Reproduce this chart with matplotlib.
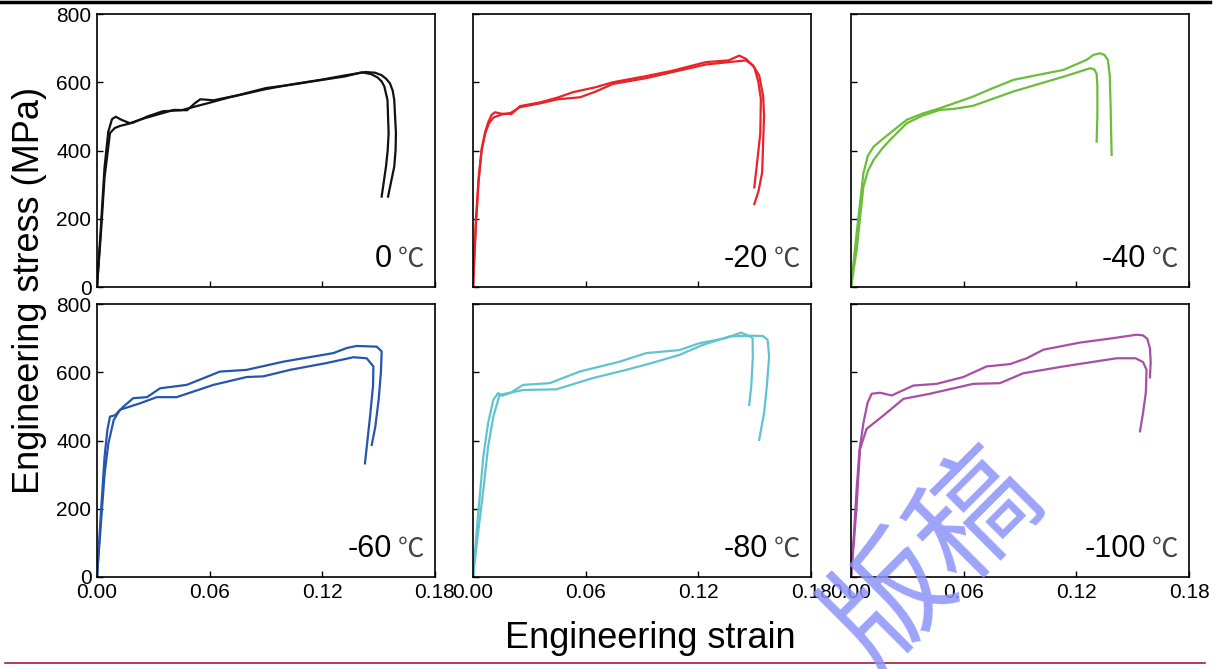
import matplotlib
matplotlib.use('Agg')
import matplotlib.pyplot as plt
from matplotlib.lines import Line2D


plt.rcParams['font.family'] = ['Liberation Sans', 'DejaVu Sans']

temperatures = ['0', '-20', '-40', '-60', '-80', '-100']
colors = ['#111111', '#e8232a', '#6bbd3a', '#2456ad', '#62c3d0', '#a84ea6']

x_ticks = [0.00, 0.06, 0.12, 0.18]
x_ticklabels = ['0.00', '0.06', '0.12', '0.18']
y_ticks = [0, 200, 400, 600, 800]

# two specimens per temperature, strain / stress (MPa)
strain_0a = [0, 0.002, 0.004, 0.006, 0.008, 0.010, 0.013, 0.0175, 0.025, 0.032, 0.041, 0.048,
             0.052, 0.055, 0.058, 0.062, 0.075, 0.09, 0.105, 0.12, 0.132, 0.141, 0.146,
             0.1494, 0.1515, 0.153, 0.1547, 0.1553, 0.1548, 0.1539, 0.1516]
stress_0a = [0, 170, 350, 455, 492, 499, 490, 480, 494, 505, 519, 518,
             538, 550, 549, 547, 562, 583, 594, 607, 617, 629, 624,
             614, 603, 588, 548, 450, 400, 353, 265]
strain_0b = [0, 0.002, 0.004, 0.0069, 0.0095, 0.0123, 0.0194, 0.027, 0.035, 0.045, 0.053, 0.060,
             0.070, 0.09, 0.105, 0.12, 0.132, 0.143, 0.148, 0.1515, 0.154, 0.156, 0.1575,
             0.1583, 0.1592, 0.1590, 0.1583, 0.155]
stress_0b = [0, 150, 320, 451, 466, 472, 482, 500, 515, 518, 530, 540,
             555, 580, 595, 608, 620, 630, 628, 621, 610, 597, 575,
             548, 450, 400, 353, 265]

strain_20a = [0, 0.0016, 0.003, 0.0046, 0.0065, 0.0081, 0.0100, 0.0117, 0.015, 0.0205, 0.025,
              0.0356, 0.045, 0.0533, 0.065, 0.0745, 0.0922, 0.1064, 0.124, 0.136, 0.1418,
              0.1455, 0.1498, 0.152, 0.1533, 0.1530, 0.1510, 0.1498]
stress_20a = [0, 199, 320, 405, 455, 483, 505, 512, 508, 507, 530,
              541, 555, 571, 585, 600, 618, 634, 659, 664, 678,
              668, 644, 600, 551, 450, 350, 292]
strain_20b = [0, 0.0016, 0.003, 0.0046, 0.0065, 0.0085, 0.011, 0.015, 0.020, 0.025, 0.0356,
              0.045, 0.057, 0.065, 0.0745, 0.0922, 0.1064, 0.124, 0.138, 0.1453, 0.149,
              0.1524, 0.1545, 0.155, 0.1545, 0.154, 0.1520, 0.1498]
stress_20b = [0, 190, 310, 400, 450, 480, 497, 505, 510, 527, 538,
              550, 556, 572, 595, 612, 630, 652, 660, 664, 650,
              620, 560, 502, 420, 336, 280, 243]

strain_40a = [0, 0.003, 0.0066, 0.009, 0.012, 0.0165, 0.0208, 0.0297, 0.038, 0.0474, 0.0599,
              0.065, 0.073, 0.0865, 0.10, 0.113, 0.1256, 0.129, 0.1326, 0.135, 0.1368, 0.1378,
              0.1383, 0.1388]
stress_40a = [0, 157, 333, 385, 411, 432, 451, 490, 508, 524, 548,
              558, 577, 607, 622, 636, 666, 680, 685, 680, 665, 620,
              520, 387]
strain_40b = [0, 0.003, 0.0066, 0.009, 0.012, 0.0165, 0.0208, 0.0297, 0.038, 0.0474, 0.055,
              0.065, 0.0865, 0.10, 0.113, 0.1245, 0.1273, 0.1295, 0.1308, 0.1312, 0.1312, 0.1308]
stress_40b = [0, 108, 294, 340, 372, 405, 431, 480, 502, 519, 522,
              531, 573, 595, 616, 636, 641, 638, 625, 590, 500, 426]

strain_60a = [0, 0.002, 0.004, 0.0055, 0.0069, 0.0096, 0.014, 0.0193, 0.0266, 0.0336, 0.0478,
              0.0655, 0.0797, 0.0992, 0.1258, 0.133, 0.1383, 0.149, 0.1516, 0.1512, 0.1500,
              0.1482, 0.1463]
stress_60a = [0, 180, 350, 430, 470, 474, 499, 524, 527, 553, 563,
              602, 607, 631, 656, 671, 677, 675, 661, 600, 520,
              440, 387]
strain_60b = [0, 0.002, 0.004, 0.006, 0.0089, 0.0122, 0.0229, 0.0318, 0.0424, 0.062, 0.0797,
              0.0886, 0.1028, 0.1223, 0.1365, 0.1436, 0.1472, 0.147, 0.1454, 0.1427]
stress_60b = [0, 150, 300, 390, 460, 490, 509, 527, 527, 563, 586,
              588, 607, 627, 644, 641, 617, 560, 470, 333]

strain_80a = [0, 0.0025, 0.0055, 0.008, 0.0108, 0.0134, 0.0154, 0.02, 0.0267, 0.0409, 0.0568,
              0.0781, 0.0922, 0.11, 0.1205, 0.1347, 0.1427, 0.1465, 0.1489, 0.149, 0.1482, 0.1471]
stress_80a = [0, 170, 353, 450, 519, 539, 531, 540, 563, 568, 602,
              631, 656, 665, 685, 700, 716, 708, 700, 640, 560, 504]
strain_80b = [0, 0.0025, 0.0055, 0.008, 0.0108, 0.0142, 0.018, 0.0267, 0.0444, 0.0639, 0.0816,
              0.0958, 0.11, 0.1223, 0.1365, 0.1489, 0.1545, 0.1569, 0.1577, 0.1565, 0.155, 0.1524]
stress_80b = [0, 120, 255, 380, 470, 534, 538, 548, 550, 583, 607,
              628, 651, 680, 705, 707, 706, 695, 646, 560, 480, 402]

strain_100a = [0, 0.0015, 0.003, 0.0045, 0.0066, 0.0088, 0.011, 0.0155, 0.0217, 0.0332, 0.0456,
               0.0598, 0.0722, 0.0847, 0.0936, 0.1024, 0.122, 0.1397, 0.1521, 0.1555, 0.1578,
               0.1592, 0.1596, 0.1592]
stress_100a = [0, 120, 258, 370, 451, 510, 537, 540, 532, 561, 566,
               586, 617, 624, 641, 666, 687, 700, 710, 708, 698,
               670, 630, 585]
strain_100b = [0, 0.0015, 0.003, 0.0048, 0.0083, 0.0172, 0.0279, 0.042, 0.0651, 0.0793, 0.0917,
               0.1131, 0.1308, 0.1415, 0.1515, 0.1555, 0.1574, 0.157, 0.1555, 0.1539]
stress_100b = [0, 100, 209, 375, 434, 473, 522, 537, 566, 568, 597,
               617, 632, 641, 641, 630, 607, 540, 480, 427]

curves = [
    [(strain_0a, stress_0a), (strain_0b, stress_0b)],
    [(strain_20a, stress_20a), (strain_20b, stress_20b)],
    [(strain_40a, stress_40a), (strain_40b, stress_40b)],
    [(strain_60a, stress_60a), (strain_60b, stress_60b)],
    [(strain_80a, stress_80a), (strain_80b, stress_80b)],
    [(strain_100a, stress_100a), (strain_100b, stress_100b)],
]


def main():

    W, H = 1218, 669
    fig = plt.figure(figsize=(W / 100, H / 100), dpi=100)

    # panel boxes in pixels (left, top)
    lefts = [97, 473, 851]
    tops = [14, 304]
    aw, ah = 338, 273

    for i in range(6):
        r, c = divmod(i, 3)
        ax = fig.add_axes([lefts[c] / W, 1 - (tops[r] + ah) / H, aw / W, ah / H])

        for xs, ys in curves[i]:
            ax.plot(xs, ys, color=colors[i], lw=1.6, solid_joinstyle='round')

        ax.set_xlim(0, 0.18)
        ax.set_ylim(0, 800)
        ax.set_xticks(x_ticks)
        ax.set_yticks(y_ticks)
        ax.tick_params(direction='in', length=4, width=1.0, labelsize=15, pad=4)

        if r == 1:
            ax.set_xticklabels(x_ticklabels)
        else:
            ax.set_xticklabels([])
        if c == 0:
            ax.set_yticklabels([str(v) for v in y_ticks])
        else:
            ax.set_yticklabels([])

        for s in ax.spines.values():
            s.set_linewidth(1.2)

        ax.text(0.872, 0.075, temperatures[i], transform=ax.transAxes,
                ha='right', va='baseline', fontsize=22)
        ax.text(0.89, 0.074, '℃', transform=ax.transAxes, ha='left',
                va='baseline', fontsize=19, color='#444444',
                family=['Noto Sans CJK SC', 'DejaVu Sans'], fontweight='light')

    fig.text(30 / W, 1 - 290 / H, 'Engineering stress (MPa)', rotation=90,
             ha='center', va='center', fontsize=26)
    fig.text(650 / W, 1 - 638 / H, 'Engineering strain',
             ha='center', va='center', fontsize=26)

    # page rules above and below
    fig.add_artist(Line2D([0, 1210 / W], [1 - 2 / H, 1 - 2 / H], color='black', lw=2.5))
    fig.add_artist(Line2D([5 / W, 1205 / W], [1 - 663 / H, 1 - 663 / H],
                          color='#a0203c', lw=1.2))

    # watermark
    fig.text(935 / W, 1 - 560 / H, '版稿', rotation=45, ha='center', va='center',
             fontsize=88, color='#8c93f7', alpha=0.85,
             family=['Noto Sans CJK SC', 'DejaVu Sans'], fontweight='light', zorder=10)

    fig.savefig('out.png', dpi=100)


if __name__ == "__main__":
    main()
